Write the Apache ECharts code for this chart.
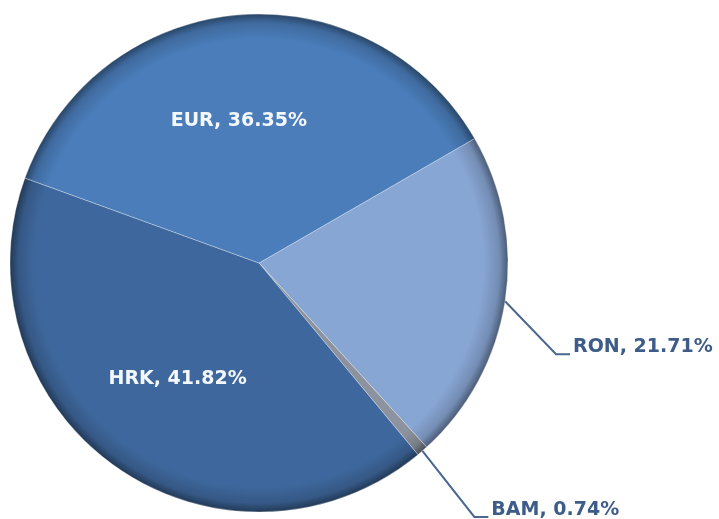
<!DOCTYPE html>
<html>
<head>
<meta charset="utf-8">
<script src="https://cdn.jsdelivr.net/npm/echarts@6/dist/echarts.min.js"></script>
<style>
  html, body { margin: 0; padding: 0; background: #fff; }
  #chart { width: 719px; height: 519px; }
</style>
</head>
<body>
<div id="chart"></div>
<script>
// clockwise from the RON/EUR edge
const currencies = ['RON', 'BAM', 'HRK', 'EUR'];
const shares = [21.71, 0.74, 41.82, 36.35];
const sliceColors = ['#88a6d4', '#8c939e', '#3e689d', '#4a7dba'];

const cx = 259, cy = 263, r = 249;

// darken a hex colour a bit, used for the bevelled rim
function shade(hex, f) {
    const n = parseInt(hex.slice(1), 16);
    const c = [(n >> 16) & 255, (n >> 8) & 255, n & 255].map(v => Math.round(v * f));
    return 'rgb(' + c.join(',') + ')';
}

function bevel(hex) {
    return new echarts.graphic.RadialGradient(cx, cy, r, [
        { offset: 0, color: hex },
        { offset: 0.9, color: hex },
        { offset: 0.965, color: shade(hex, 0.85) },
        { offset: 1, color: shade(hex, 0.55) }
    ], true);
}

const inside = {
    show: true,
    position: 'inside',
    color: '#f4f8fc',
    fontFamily: 'DejaVu Sans',
    fontWeight: 'bold',
    fontSize: 19
};
const outside = {
    show: true,
    position: 'outside',
    color: '#3d5c89',
    fontFamily: 'DejaVu Sans',
    fontWeight: 'bold',
    fontSize: 19
};
// label placement tweaks (style, not data)
const labelOffsets = { EUR: [-9, -15], HRK: [-8, 12] };
const leaderBends = { RON: [51, 53], BAM: [52, 66] };

const data = currencies.map((name, i) => {
    const isOut = name in leaderBends;
    return {
        name: name,
        value: shares[i],
        itemStyle: { color: bevel(sliceColors[i]) },
        label: isOut ? outside : Object.assign({ offset: labelOffsets[name] }, inside),
        labelLine: { show: isOut, length: 20, length2: 15, lineStyle: { color: '#4a6790', width: 2 } }
    };
});

const chart = echarts.init(document.getElementById('chart'));
chart.setOption({
    animation: false,
    series: [{
        type: 'pie',
        center: [cx, cy],
        radius: r,
        startAngle: 30,
        clockwise: true,
        avoidLabelOverlap: false,
        itemStyle: { borderColor: 'rgba(255,255,255,0.3)', borderWidth: 1 },
        label: { formatter: '{b}, {c}%' },
        labelLayout: function (p) {
            const name = currencies[p.dataIndex];
            const bend = leaderBends[name];
            if (!bend || !p.labelLinePoints) return {};
            const p0 = p.labelLinePoints[0];
            const p1 = [p0[0] + bend[0], p0[1] + bend[1]];
            const p2 = [p1[0] + 14, p1[1]];
            return {
                x: p2[0] + 3,
                y: p2[1] - 7,
                align: 'left',
                verticalAlign: 'middle',
                labelLinePoints: [p0, p1, p2]
            };
        },
        data: data
    }]
});
</script>
</body>
</html>
